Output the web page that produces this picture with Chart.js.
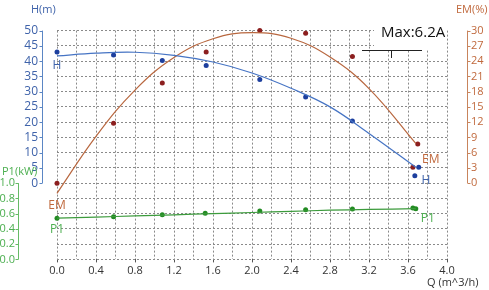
<!DOCTYPE html>
<html>
<head>
<meta charset="utf-8">
<script src="https://cdn.jsdelivr.net/npm/chart.js@4.4.0/dist/chart.umd.min.js"></script>
<style>
  html, body { margin: 0; padding: 0; background: #fff; }
  #c { display: block; }
</style>
</head>
<body>
<canvas id="c" width="489" height="290"></canvas>
<script>
// measured points (Q in m^3/h)
var hPtQ = [0, 0.58, 1.08, 1.53, 2.08, 2.55, 3.03, 3.67, 3.71];
var hPtVal = [43, 42, 40.2, 38.6, 34, 28.2, 20.4, 2.4, 5.2];
var emPtQ = [0, 0.58, 1.08, 1.53, 2.08, 2.55, 3.03, 3.70, 3.65];
var emPtVal = [0, 11.8, 19.7, 25.8, 30, 29.5, 24.9, 7.7, 3.1];
var p1PtQ = [0, 0.58, 1.08, 1.52, 2.08, 2.55, 3.03, 3.65, 3.68];
var p1PtVal = [0.54, 0.56, 0.585, 0.605, 0.635, 0.65, 0.66, 0.675, 0.665];

// fitted curves
var curveQ = [0, 0.4, 0.8, 1.2, 1.6, 2.0, 2.4, 2.8, 3.2, 3.68];
var hCurve = [41.7, 42.6, 42.9, 41.9, 39.7, 36.1, 31.1, 25, 16.3, 5.2];
var emCurve = [-2, 9.2, 18.3, 24.7, 28.4, 29.6, 28.5, 24.8, 18.6, 7.8];
var p1Curve = [0.54, 0.555, 0.57, 0.585, 0.60, 0.615, 0.63, 0.645, 0.655, 0.665];

var FONT = "'Open Sans', 'DejaVu Sans', sans-serif";

function pts(xs, ys) {
    return xs.map(function (x, i) { return { x: x, y: ys[i] }; });
}

function curveSet(data, color, axis) {
    return {
        type: 'line', data: pts(curveQ, data), yAxisID: axis,
        borderColor: color, borderWidth: 1.2, pointRadius: 0,
        tension: 0.4, fill: false, clip: false
    };
}
function dotSet(xs, ys, color, axis) {
    return {
        type: 'scatter', data: pts(xs, ys), yAxisID: axis,
        backgroundColor: color, borderColor: color, borderWidth: 0,
        pointRadius: 2.5, clip: false
    };
}

var decor = {
    id: 'decor',
    afterDraw: function (chart) {
        var c = chart.ctx, s = chart.scales;
        var x = s.x, yH = s.yH, yE = s.yEM, yP = s.yP;
        c.save();
        c.lineWidth = 1;

        function vaxis(px, scale, from, to, step, color, side) {
            c.strokeStyle = color;
            c.beginPath();
            c.moveTo(px + 0.5, scale.getPixelForValue(to));
            c.lineTo(px + 0.5, scale.getPixelForValue(from));
            for (var v = from; v <= to + 1e-9; v += step) {
                var py = Math.round(scale.getPixelForValue(v)) + 0.5;
                c.moveTo(px + 0.5, py);
                c.lineTo(px + 0.5 + side * 3, py);
            }
            c.stroke();
        }
        vaxis(42, yH, 0, 50, 5, '#5b86c4', -1);
        vaxis(18, yP, 0, 1.0, 0.2, '#66bb66', -1);
        vaxis(467, yE, 0, 30, 3, '#c8845c', 1);

        c.font = '11px ' + FONT;
        c.textBaseline = 'middle';
        c.textAlign = 'left';
        c.fillStyle = '#3f63aa';
        c.fillText('H(m)', 31, 10);
        c.fillStyle = '#c0693d';
        c.fillText('EM(%)', 456, 10);
        c.fillStyle = '#4caf50';
        c.fillText('P1(kW)', 2, 172);
        c.fillStyle = '#333';
        c.fillText('Q (m^3/h)', 427, 283);

        // series labels next to curve ends
        c.textAlign = 'center';
        c.font = '12px ' + FONT;
        c.fillStyle = '#3f63aa';
        c.fillText('H', x.getPixelForValue(0), yH.getPixelForValue(43) + 14);
        c.fillText('H', x.getPixelForValue(3.67) + 11, yH.getPixelForValue(2.4) + 5);
        c.fillStyle = '#c0693d';
        c.fillText('EM', x.getPixelForValue(0), yE.getPixelForValue(0) + 22);
        c.fillText('EM', x.getPixelForValue(3.70) + 13, yE.getPixelForValue(7.7) + 16);
        c.fillStyle = '#4caf50';
        c.fillText('P1', x.getPixelForValue(0), yP.getPixelForValue(0.54) + 11);
        c.fillText('P1', x.getPixelForValue(3.68) + 12, yP.getPixelForValue(0.665) + 10);

        // Max current note on a white box
        c.fillStyle = '#fff';
        c.fillRect(374, 19, 73, 31);
        c.fillStyle = '#111';
        c.textAlign = 'left';
        c.font = '15px ' + FONT;
        c.fillText('Max:6.2A', 381, 33);
        c.strokeStyle = '#222';
        c.beginPath();
        c.moveTo(362, 50.5); c.lineTo(422, 50.5);
        c.moveTo(391.5, 50); c.lineTo(391.5, 58);
        c.stroke();
        c.restore();
    }
};

var gridColor = '#8a8a8a';

new Chart(document.getElementById('c'), {
    type: 'scatter',
    data: {
        datasets: [
            curveSet(hCurve, '#4674c4', 'yH'),
            dotSet(hPtQ, hPtVal, '#1d3f9e', 'yH'),
            curveSet(emCurve, '#b8673f', 'yEM'),
            dotSet(emPtQ, emPtVal, '#8c1f1f', 'yEM'),
            curveSet(p1Curve, '#3c9b3c', 'yP'),
            dotSet(p1PtQ, p1PtVal, '#228b22', 'yP')
        ]
    },
    options: {
        responsive: false,
        animation: false,
        layout: { padding: { top: 18, right: 0, left: 0, bottom: 0 } },
        plugins: { legend: { display: false }, tooltip: { enabled: false } },
        scales: {
            x: {
                type: 'linear', position: 'bottom', min: 0, max: 4,
                afterFit: function (sc) { sc.height = 27; },
                ticks: {
                    stepSize: 0.2, autoSkip: false, maxRotation: 0, padding: 2,
                    color: '#333', font: { size: 11, family: FONT },
                    callback: function (v) { return Math.round(v * 10) % 4 === 0 ? v.toFixed(1) : ''; }
                },
                grid: {
                    color: gridColor, lineWidth: 1, tickLength: 3,
                    tickColor: function (ctx) {
                        return ctx.tick && Math.round(ctx.tick.value * 10) % 4 === 0 ? '#555' : 'rgba(0,0,0,0)';
                    }
                },
                border: { display: false, dash: [2, 2] }
            },
            yH: {
                type: 'linear', position: 'left', weight: 0, min: -25, max: 50,
                afterFit: function (sc) { sc.width = 39; },
                ticks: {
                    stepSize: 5, autoSkip: false, padding: 19,
                    color: '#3f63aa', font: { size: 12, family: FONT },
                    callback: function (v) { return v >= 0 ? v : ''; }
                },
                grid: { color: gridColor, lineWidth: 1, drawTicks: false },
                border: { display: false, dash: [2, 2] }
            },
            yP: {
                type: 'linear', position: 'left', weight: 1, min: 0, max: 3,
                afterFit: function (sc) { sc.width = 18; },
                ticks: {
                    stepSize: 0.2, autoSkip: false, padding: 3,
                    color: '#4caf50', font: { size: 11, family: FONT },
                    callback: function (v) { return v <= 1.0001 ? v.toFixed(1) : ''; }
                },
                grid: { display: false, drawTicks: false },
                border: { display: false }
            },
            yEM: {
                type: 'linear', position: 'right', min: -15, max: 30,
                afterFit: function (sc) { sc.width = 42; },
                ticks: {
                    stepSize: 3, autoSkip: false, padding: 24,
                    color: '#c0693d', font: { size: 11, family: FONT },
                    callback: function (v) { return v >= 0 ? v : ''; }
                },
                grid: { display: false, drawTicks: false },
                border: { display: false }
            }
        }
    },
    plugins: [decor]
});
</script>
</body>
</html>
